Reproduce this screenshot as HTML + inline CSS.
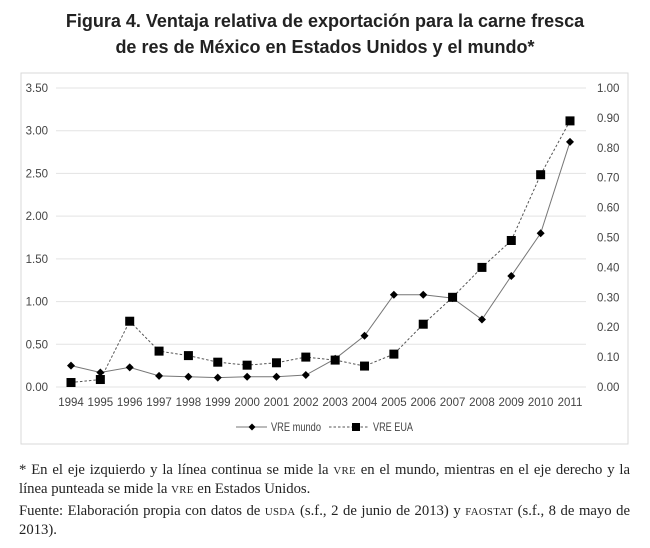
<!DOCTYPE html>
<html><head><meta charset="utf-8"><style>
body{margin:0;width:650px;height:548px;background:#fff;position:relative;overflow:hidden;font-family:"Liberation Sans",sans-serif}
#title{position:absolute;left:0;top:8px;width:650px;text-align:center;font-weight:bold;font-size:18px;line-height:26px;color:#222}
.note{position:absolute;left:19px;width:611px;font-family:"Liberation Serif",serif;font-size:14.7px;line-height:18px;color:#222;text-align:justify;text-align-last:left}
.sc{font-size:10.8px;letter-spacing:0.3px}
svg{position:absolute;left:0;top:0}
</style></head><body>
<div id="title">Figura 4. Ventaja relativa de exportación para la carne fresca<br>de res de México en Estados Unidos y el mundo*</div>
<svg id="chart" width="650" height="548"></svg>
<div class="note" style="top:461px">* En el eje izquierdo y la línea continua se mide la <span class="sc">VRE</span> en el mundo, mientras en el eje derecho y la línea punteada se mide la <span class="sc">VRE</span> en Estados Unidos.</div>
<div class="note" style="top:502px">Fuente: Elaboración propia con datos de <span class="sc">USDA</span> (s.f., 2 de junio de 2013) y <span class="sc">FAOSTAT</span> (s.f., 8 de mayo de 2013).</div>
<script>
const years=[1994,1995,1996,1997,1998,1999,2000,2001,2002,2003,2004,2005,2006,2007,2008,2009,2010,2011];
const vreMundo=[0.25,0.17,0.23,0.13,0.12,0.11,0.12,0.12,0.14,0.33,0.60,1.08,1.08,1.04,0.79,1.30,1.80,2.87];
const vreEUA=[0.015,0.025,0.22,0.12,0.105,0.083,0.073,0.081,0.10,0.09,0.07,0.11,0.21,0.30,0.40,0.49,0.71,0.89];
const leftTicks=[0,0.5,1,1.5,2,2.5,3,3.5];
const rightTicks=[0,0.1,0.2,0.3,0.4,0.5,0.6,0.7,0.8,0.9,1.0];
const svg=document.getElementById('chart');const NS='http://www.w3.org/2000/svg';
function mk(t,a,p){const e=document.createElementNS(NS,t);for(const k in a)e.setAttribute(k,a[k]);(p||svg).appendChild(e);return e;}
const y0=387,y1=88,x0=71,x1=570;
const yL=v=>y0-(v/3.5)*(y0-y1);
const yR=v=>y0-(v/1.0)*(y0-y1);
const xS=i=>x0+i*(x1-x0)/(years.length-1);
const FS=11.5;
let b=mk('rect',{x:21,y:73,width:607,height:371,fill:'none',stroke:'#d9d9d9','stroke-width':1});

leftTicks.forEach(v=>{
 let g=mk('line',{x1:56,x2:586,y1:yL(v),y2:yL(v),stroke:'#e3e3e3','stroke-width':1});
 
 let t=mk('text',{x:48,y:yL(v)+4,'text-anchor':'end','font-size':FS,fill:'#444'});t.textContent=v.toFixed(2);
 
});
rightTicks.forEach(v=>{
 let t=mk('text',{x:597,y:yR(v)+4,'font-size':FS,fill:'#444'});t.textContent=v.toFixed(2);
 
});
years.forEach((yr,i)=>{
 let t=mk('text',{x:xS(i),y:406,'text-anchor':'middle','font-size':FS,fill:'#444'});t.textContent=yr;
 
});
let p1=mk('polyline',{points:vreMundo.map((v,i)=>xS(i)+','+yL(v)).join(' '),fill:'none',stroke:'#777','stroke-width':1});

let p2=mk('polyline',{points:vreEUA.map((v,i)=>xS(i)+','+yR(v)).join(' '),fill:'none',stroke:'#555','stroke-width':1,'stroke-dasharray':'2.5,2'});

function diamond(cx,cy,r){return `${cx},${cy-r} ${cx+r},${cy} ${cx},${cy+r} ${cx-r},${cy}`;}
vreMundo.forEach((v,i)=>{
 let d=mk('polygon',{points:diamond(xS(i),yL(v),4),fill:'#000'});
 
});
vreEUA.forEach((v,i)=>{
 let s=mk('rect',{x:xS(i)-4.5,y:yR(v)-4.5,width:9,height:9,fill:'#000'});
 
});
let lg=mk('g',{});
mk('line',{x1:236,x2:267,y1:427,y2:427,stroke:'#777'},lg);
mk('polygon',{points:diamond(252,427,3.5),fill:'#000'},lg);
let l1=mk('text',{x:271,y:431,'font-size':12,fill:'#444',textLength:50,lengthAdjust:'spacingAndGlyphs'},lg);l1.textContent='VRE mundo';

mk('line',{x1:329,x2:368,y1:427,y2:427,stroke:'#555','stroke-dasharray':'2.5,2'},lg);
mk('rect',{x:352,y:423,width:8,height:8,fill:'#000'},lg);
let l2=mk('text',{x:373,y:431,'font-size':12,fill:'#444',textLength:40,lengthAdjust:'spacingAndGlyphs'},lg);l2.textContent='VRE EUA';

</script>
</body></html>
